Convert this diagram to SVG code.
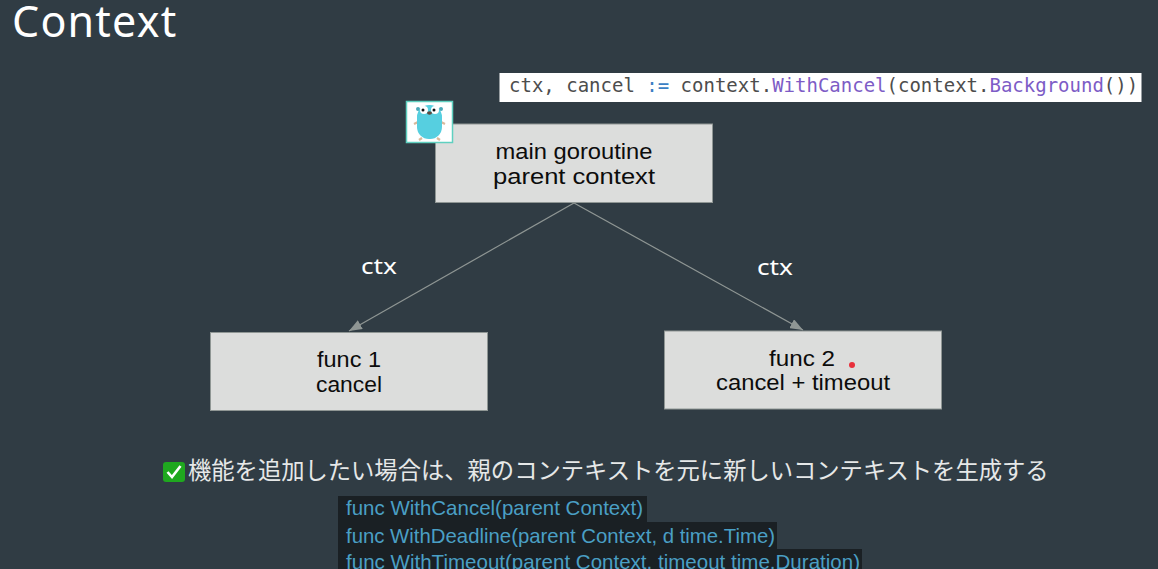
<svg xmlns="http://www.w3.org/2000/svg" width="1158" height="569" viewBox="0 0 1158 569">
<style>
.hand{font-family:"Liberation Sans",Arial,sans-serif;text-anchor:middle}
.box{fill:#dcdddc;stroke:#8f9694;stroke-width:1}
.lbl{font-size:21.5px;fill:#0c0c0c}
.edge{font-family:"Noto Sans",sans-serif;font-size:22px;fill:#fff}
.code{font-family:"DejaVu Sans Mono","Liberation Mono",monospace;font-size:19px;fill:#4d4d4d}
.fn{fill:#7d5cc6}
.kw{fill:#3b7fc4}
.go{font-family:"Liberation Sans",Arial,sans-serif;font-size:20.4px;fill:#4a9fc4}
.hl{fill:#1a2024}
.conn{stroke:#8f9694;stroke-width:1.2;fill:none;marker-end:url(#arr)}
</style>
<defs><marker id="arr" markerUnits="userSpaceOnUse" markerWidth="14" markerHeight="10" refX="13" refY="5" orient="auto"><path d="M0 0L13 5L0 10Z" fill="#8f9694"/></marker></defs>
<rect width="1158" height="569" fill="#303c44"/>
<text id="title" x="12" y="37" font-family="'Noto Sans','DejaVu Sans',sans-serif" font-size="43" letter-spacing="1.200" fill="#fff">Context</text>
<g id="code-banner">
<rect x="499.500" y="73" width="642" height="29" fill="#fff"/>
<text class="code" x="509" y="92">ctx, cancel <tspan class="kw">:=</tspan> context.<tspan class="fn">WithCancel</tspan>(context.<tspan class="fn">Background</tspan>())</text>
</g>
<g id="connectors">
<path class="conn" d="M574 203L349 331"/>
<path class="conn" d="M574 203L803 330"/>
</g>
<g id="node-main">
<rect class="box" x="435.500" y="124" width="277" height="78.500"/>
<text class="hand lbl"><tspan x="574" y="159" textLength="157" lengthAdjust="spacingAndGlyphs">main goroutine</tspan><tspan x="574" y="184" textLength="162" lengthAdjust="spacingAndGlyphs">parent context</tspan></text>
</g>
<g id="gopher">
<rect x="406.500" y="101.500" width="46" height="41" fill="#fff" stroke="#5fd0c0" stroke-width="1.500"/>
<circle cx="418" cy="109" r="2" fill="#4aa8b8"/>
<circle cx="441" cy="109" r="2" fill="#4aa8b8"/>
<path d="M418 122L414 124M441 122L445 124M422 138L419 140M437 138L440 140" stroke="#d9b99b" stroke-width="2.200" fill="none"/>
<rect x="417" y="105" width="25" height="34" rx="12" fill="#56cfe0"/>
<circle cx="424" cy="110" r="4" fill="#fff"/><circle cx="435" cy="110" r="4" fill="#fff"/>
<circle cx="423" cy="110" r="1.500" fill="#111"/><circle cx="434" cy="110" r="1.500" fill="#111"/>
<ellipse cx="429.500" cy="113" rx="2.500" ry="1.800" fill="#5b4a3f"/>
</g>
<g id="label-ctx-left"><text class="hand edge" x="379" y="274" textLength="36" lengthAdjust="spacingAndGlyphs">ctx</text></g>
<g id="label-ctx-right"><text class="hand edge" x="775" y="275" textLength="36" lengthAdjust="spacingAndGlyphs">ctx</text></g>
<g id="node-func1">
<rect class="box" x="210.500" y="332.500" width="277" height="78"/>
<text class="hand lbl"><tspan x="349" y="367" textLength="64" lengthAdjust="spacingAndGlyphs">func 1</tspan><tspan x="349" y="392" textLength="66" lengthAdjust="spacingAndGlyphs">cancel</tspan></text>
</g>
<g id="node-func2">
<rect class="box" x="664.500" y="331" width="277" height="78"/>
<text class="hand lbl"><tspan x="802" y="366" textLength="66" lengthAdjust="spacingAndGlyphs">func 2</tspan><tspan x="803" y="390" textLength="174" lengthAdjust="spacingAndGlyphs">cancel + timeout</tspan></text>
</g>
<circle id="pointer" cx="852" cy="365" r="3" fill="#e8303c"/>
<g id="note">
<rect x="163" y="462" width="22" height="20" rx="3" fill="#1fa81f"/>
<path d="M167.500 472L172 477L180.500 466" stroke="#fff" stroke-width="2.600" fill="none"/>
<text x="188" y="479" font-family="'Noto Sans CJK JP',sans-serif" font-size="23.300" fill="#e6e8e8">機能を追加したい場合は、親のコンテキストを元に新しいコンテキストを生成する</text>
</g>
<g id="signatures">
<rect class="hl" x="338" y="496" width="309" height="26"/>
<rect class="hl" x="338" y="522" width="439" height="27"/>
<rect class="hl" x="338" y="549" width="524" height="20"/>
<text class="go" x="346" y="515" textLength="297" lengthAdjust="spacingAndGlyphs">func WithCancel(parent Context)</text>
<text class="go" x="346" y="543" textLength="429" lengthAdjust="spacingAndGlyphs">func WithDeadline(parent Context, d time.Time)</text>
<text class="go" x="346" y="569" textLength="514" lengthAdjust="spacingAndGlyphs">func WithTimeout(parent Context, timeout time.Duration)</text>
</g>
</svg>
